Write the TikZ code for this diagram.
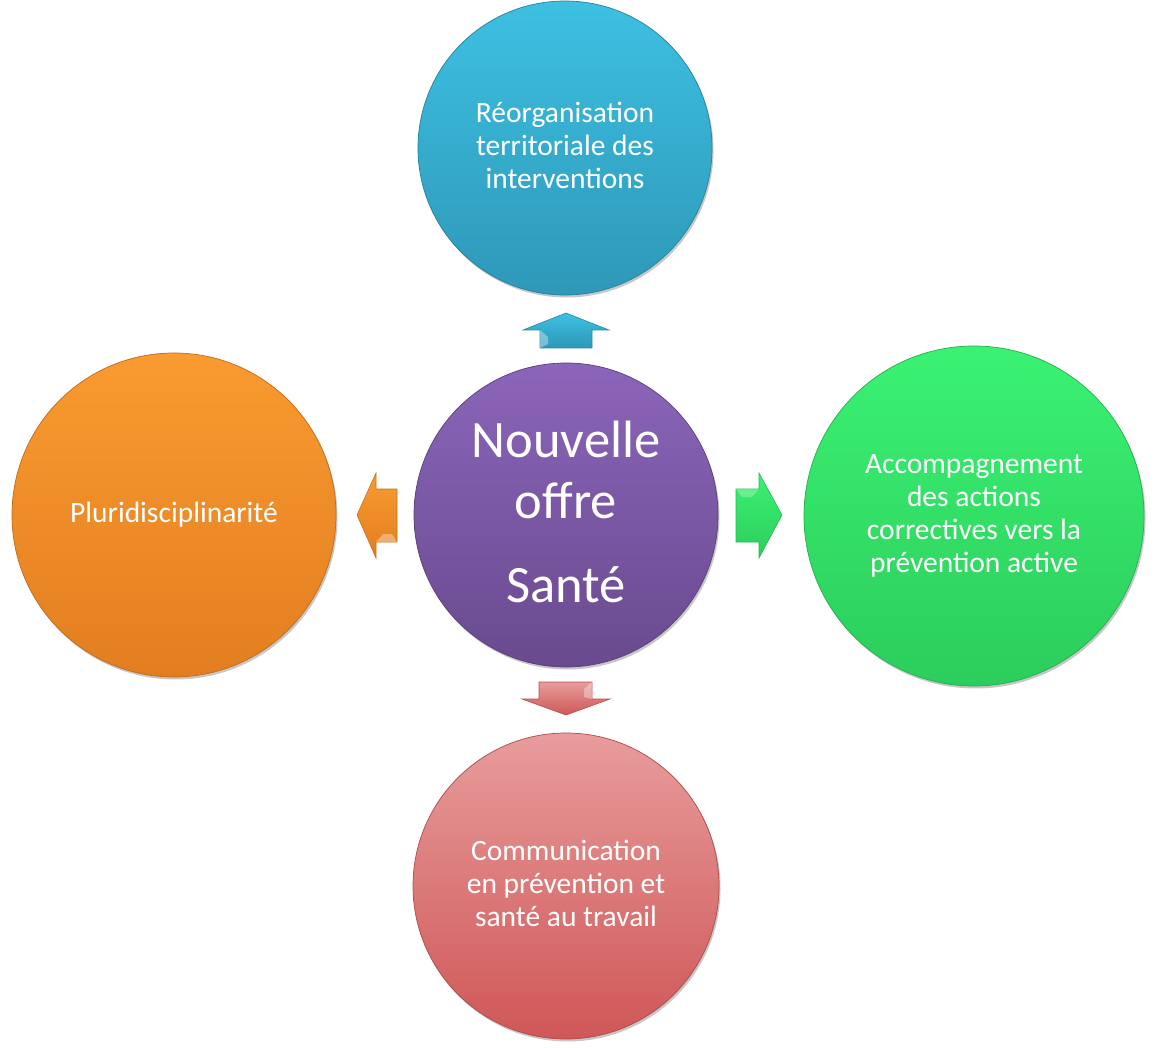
\documentclass[tikz,border=0pt]{standalone}
\usepackage{fontspec}
\setmainfont{Carlito}
\usetikzlibrary{shadows}
\definecolor{bluetop}{HTML}{3DC0E2}
\definecolor{bluebot}{HTML}{2E98B8}
\definecolor{purtop}{HTML}{8B65BA}
\definecolor{purbot}{HTML}{694A8E}
\definecolor{ortop}{HTML}{F99B30}
\definecolor{orbot}{HTML}{E27E20}
\definecolor{grtop}{HTML}{3AF272}
\definecolor{grbot}{HTML}{2CCD5C}
\definecolor{pktop}{HTML}{E89C9C}
\definecolor{pkbot}{HTML}{CF5757}
\tikzset{
  bubble/.style={circle, inner sep=0pt, text=white, align=center,
    font=\fontsize{29.5}{33}\selectfont,
    drop shadow={shadow xshift=1.5pt, shadow yshift=-2.5pt, opacity=0.22, fill=black}},
  blockarrow/.style={line width=0.6pt, line join=miter},
}
\begin{document}
\begin{tikzpicture}[x=1pt,y=-1pt]
\useasboundingbox (0,0) rectangle (1157,1048);
\fill[white] (0,0) rectangle (1157,1048);
% circles
\node[bubble, minimum size=294pt, top color=bluetop, bottom color=bluebot, draw=bluebot!85!black, line width=0.7pt, text depth=6pt]
  (reorg) at (565,148) {Réorganisation\\territoriale des\\interventions};
\node[bubble, minimum size=304pt, top color=purtop, bottom color=purbot, draw=purbot!85!black, line width=0.7pt,
  font=\fontsize{52.5}{61}\selectfont, text depth=6pt]
  (centre) at (566,515) {Nouvelle\\offre\\[23pt]Santé};
\node[bubble, minimum size=324pt, top color=ortop, bottom color=orbot, draw=orbot!85!black, line width=0.7pt]
  (pluri) at (174,515) {Pluridisciplinarité};
\node[bubble, minimum size=340pt, top color=grtop, bottom color=grbot, draw=grbot!85!black, line width=0.7pt]
  (accomp) at (974,516) {Accompagnement\\des actions\\correctives vers la\\prévention active};
\node[bubble, minimum size=306pt, top color=pktop, bottom color=pkbot, draw=pkbot!85!black, line width=0.7pt, text depth=6pt]
  (comm) at (566,886) {Communication\\en prévention et\\santé au travail};
% block arrows
\path[blockarrow, top color=bluetop, bottom color=bluebot, draw=bluebot!90!black]
  (540,348) -- (540,330) -- (523,330) -- (566,313) -- (609,330) -- (592,330) -- (592,348) -- cycle;
\fill[white, opacity=0.35] (540,330) -- (548,337) -- (548,344) -- (540,348) -- cycle;
\path[blockarrow, top color=ortop, bottom color=orbot, draw=orbot!90!black]
  (397,489) -- (376,489) -- (376,473) -- (357,515) -- (376,558) -- (376,542) -- (397,542) -- cycle;
\fill[white, opacity=0.35] (376,542) -- (383,534) -- (392,534) -- (397,542) -- cycle;
\path[blockarrow, top color=grtop, bottom color=grbot, draw=grbot!90!black]
  (736,489) -- (759,489) -- (759,473) -- (782,515) -- (759,558) -- (759,542) -- (736,542) -- cycle;
\fill[white, opacity=0.25] (736,489) -- (759,489) -- (752,497) -- (742,497) -- cycle;
\path[blockarrow, top color=pktop, bottom color=pkbot, draw=pkbot!90!black]
  (539,682) -- (592,682) -- (592,699) -- (610,699) -- (566,715) -- (522,699) -- (539,699) -- cycle;
\fill[white, opacity=0.35] (592,682) -- (584,689) -- (584,697) -- (592,699) -- cycle;
\end{tikzpicture}
\end{document}
